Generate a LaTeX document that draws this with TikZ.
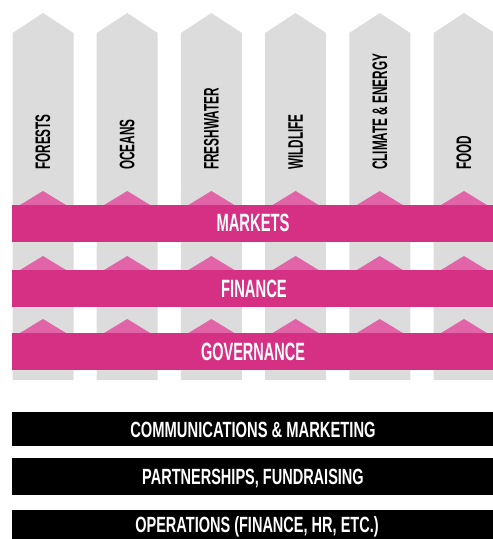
\documentclass[tikz,border=0pt]{standalone}
\usepackage{fontspec}
\setmainfont{Liberation Sans}
\usepackage{graphicx}
\definecolor{colgray}{RGB}{220,220,220}
\definecolor{magbar}{RGB}{214,48,132}
\definecolor{pinktri}{RGB}{226,100,168}
\newcommand\condtxt[2]{\scalebox{#1}[1]{#2}}
\begin{document}
\begin{tikzpicture}[x=1pt,y=-1pt,
  colshape/.style={fill=colgray,draw=none},
  tri/.style={fill=pinktri,draw=none},
  magband/.style={fill=magbar,draw=none,inner sep=0pt,minimum width=481pt,minimum height=37pt,anchor=north west},
  blkband/.style={fill=black,draw=none,inner sep=0pt,minimum width=481pt,anchor=north west},
  collabel/.style={rotate=90,anchor=west,inner sep=0pt,font=\fontsize{21}{21}\selectfont\bfseries},
  maglabel/.style={anchor=base,inner sep=0pt,text=white,font=\fontsize{25}{25}\selectfont\bfseries},
  blklabel/.style={anchor=base,inner sep=0pt,text=white,font=\fontsize{22}{22}\selectfont\bfseries}]
\useasboundingbox (0,0) rectangle (493,539);
\clip (0,0) rectangle (493,539);
% columns
\foreach \i/\lab in {0/FORESTS,1/OCEANS,2/FRESHWATER,3/WILDLIFE,4/CLIMATE \& ENERGY,5/FOOD}{
  \pgfmathsetmacro{\cx}{43+84.2*\i}
  \fill[colshape] (\cx-30.5,380) -- (\cx-30.5,33) -- (\cx,13) -- (\cx+30.5,33) -- (\cx+30.5,380) -- cycle;
  \node[collabel] (lab\i) at (\cx,170) {\condtxt{0.56}{\lab}};
  \foreach \yb in {205,270,333}{
    \fill[tri] (\cx-23,\yb) -- (\cx,\yb-14) -- (\cx+23,\yb) -- cycle;
  }
}
% magenta bars
\node[magband] (markets) at (12,205) {};
\node[magband] (finance) at (12,270) {};
\node[magband] (governance) at (12,333) {};
\node[maglabel] (tm) at (253,231.5) {\condtxt{0.59}{MARKETS}};
\node[maglabel] (tf) at (254,297) {\condtxt{0.59}{FINANCE}};
\node[maglabel] (tg) at (253,360) {\condtxt{0.58}{GOVERNANCE}};
% black bars
\node[blkband,minimum height=34pt] (comm) at (12,412) {};
\node[blkband,minimum height=37pt] (part) at (12,458) {};
\node[blkband,minimum height=35pt] (oper) at (12,510) {};
\node[blklabel] (tc) at (253,437) {\condtxt{0.67}{COMMUNICATIONS \& MARKETING}};
\node[blklabel] (tp) at (253,484) {\condtxt{0.66}{PARTNERSHIPS, FUNDRAISING}};
\node[blklabel] (to) at (257,532) {\condtxt{0.66}{OPERATIONS (FINANCE, HR, ETC.)}};
\end{tikzpicture}
\end{document}
